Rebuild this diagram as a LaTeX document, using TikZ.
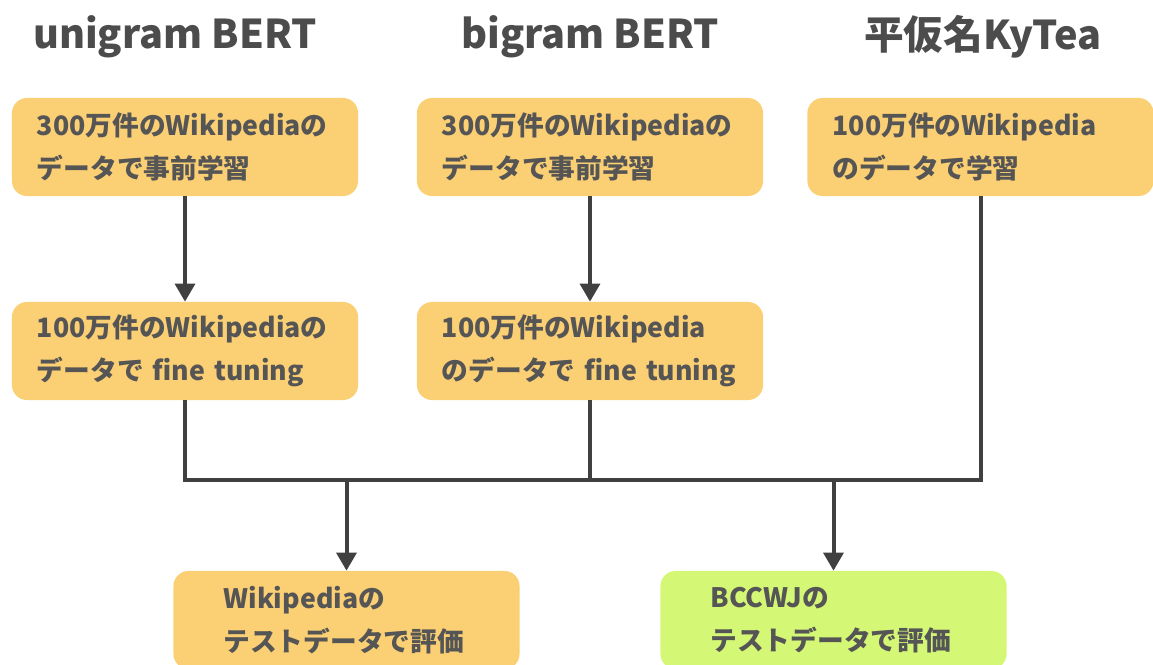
\documentclass[tikz,border=0pt]{standalone}
\usepackage{fontspec}
\setmainfont{Noto Sans CJK JP}
\usetikzlibrary{arrows.meta,positioning}
\definecolor{boxorange}{HTML}{FBCF73}
\definecolor{boxgreen}{HTML}{D4F776}
\definecolor{txtgrey}{HTML}{555555}
\definecolor{linegrey}{HTML}{404040}
\tikzset{
    stage/.style={fill=boxorange, rounded corners=0.375cm, text=txtgrey,
      font=\bfseries\fontsize{19}{30.5}\selectfont, align=left,
      minimum width=8.65cm, minimum height=2.45cm, text width=7.4cm,
      inner xsep=0.625cm, inner ysep=0pt},
    result/.style={stage, text width=6.15cm, inner xsep=1.25cm},
    heading/.style={text=txtgrey!90!black, font=\bfseries\fontsize{28.2}{30}\selectfont},
    wire/.style={draw=linegrey, line width=0.1cm},
    flow/.style={wire, -{Triangle[length=12.8pt,width=14pt]}},
  }
\begin{document}
\begin{tikzpicture}[x=0.025cm,y=-0.025cm]
				  \useasboundingbox (0,0) rectangle (1153,665);
				  %titres
				  \node[heading] (tuni) at (175,37) {unigram BERT};
				  \node[heading] (tbi) at (590,37) {bigram BERT};
				  \node[heading] (tky) at (983,37) {平仮名KyTea};
				  
				  \node[stage] (uni1) at (185,147) {300万件のWikipediaの\\データで事前学習};
				  \node[stage] (bi1) at (590,147) {300万件のWikipediaの\\データで事前学習};
				  \node[stage] (ky) at (980.5,147) {100万件のWikipedia\\のデータで学習};
				  \node[stage] (uni2) at (185,351) {100万件のWikipediaの\\データで fine tuning};
				  \node[stage] (bi2) at (590,351) {100万件のWikipedia\\のデータで fine tuning};
				  \node[result] (wiki) at (346.5,620) {Wikipediaの\\テストデータで評価};
				  \node[result, fill=boxgreen] (bccwj) at (833.5,620) {BCCWJの\\テストデータで評価};
				  
				  \coordinate (bar) at (0,480);
				  
				  \draw[flow] (uni1) -- (uni2);
				  \draw[flow] (bi1) -- (bi2);
				  \draw[wire] (ky.south) |- (uni2.south |- bar) -- (uni2.south);
				  \draw[wire] (bi2.south) -- (bi2.south |- bar);
				  \draw[flow] (wiki.north |- bar) -- (wiki.north);
				  \draw[flow] (bccwj.north |- bar) -- (bccwj.north);
				  \end{tikzpicture}
\end{document}
